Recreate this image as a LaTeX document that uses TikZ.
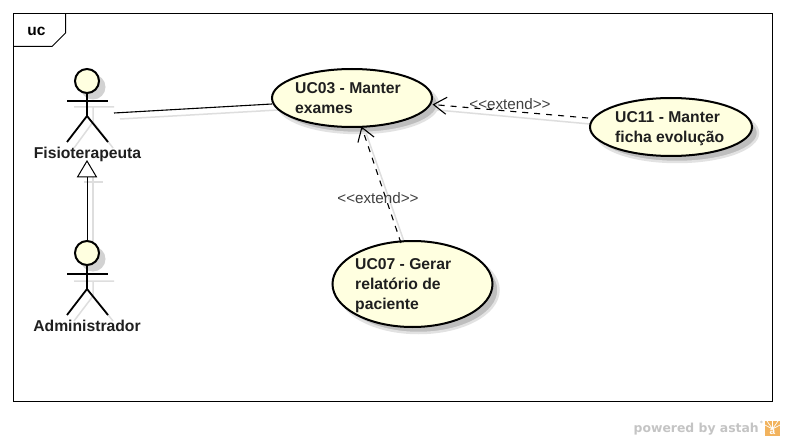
\documentclass[tikz,border=0pt]{standalone}
\usepackage{fontspec}
\setmainfont{Liberation Sans}
\newfontfamily\astahfont{DejaVu Sans}
\usetikzlibrary{shapes.geometric,arrows.meta}
\definecolor{ucfill}{HTML}{FFFFE0}
\definecolor{shadowc}{HTML}{BEBEBE}
\definecolor{ghost}{HTML}{DEDEDE}
\definecolor{labelc}{HTML}{404040}
\definecolor{astahc}{HTML}{C4C4C4}
\definecolor{astaho}{HTML}{F2B35E}
\tikzset{
  x=1pt,y=-1pt,
  usecase/.style={ellipse,draw=black,line width=2pt,fill=ucfill,inner sep=0pt,outer sep=0pt},
  ushadow/.style={ellipse,fill=shadowc,draw=shadowc!45,line width=2.5pt,inner sep=0pt},
  uctext/.style={font=\bfseries\fontsize{15.7}{20}\selectfont,align=left,anchor=north west,inner sep=0pt,text=black!88},
  actorname/.style={font=\bfseries\fontsize{15.7}{17}\selectfont,inner sep=0pt,text=black!88},
  stereo/.style={font=\fontsize{15.2}{17}\selectfont,text=labelc,inner sep=0pt},
  head/.style={circle,draw=black,line width=2pt,fill=ucfill,minimum size=24pt,inner sep=0pt,outer sep=0pt},
  limb/.style={draw=black,line width=1.8pt},
  ghostline/.style={draw=ghost,line width=1.5pt},
  assoc/.style={draw=black,line width=1.1pt},
  ext/.style={draw=black,line width=1.1pt,dash pattern=on 6pt off 6pt,-{Straight Barb[length=13pt,width=17pt,line width=1.1pt]}},
}
\begin{document}
\begin{tikzpicture}
\useasboundingbox (0,0) rectangle (785,441);
\fill[white] (0,0) rectangle (785,441);
% frame
\draw[black,line width=1pt] (13.5,13.5) rectangle (772.5,401.5);
\draw[black,line width=1pt] (65.5,13.5) -- (65.5,33) -- (52,46.5) -- (13.5,46.5);
\node[font=\bfseries\fontsize{15.5}{17}\selectfont,inner sep=0pt] (frametag) at (36.5,31) {uc};
% shadows
\node[ushadow,minimum width=160pt,minimum height=58pt] (s03) at (358,104) {};
\node[ushadow,minimum width=162pt,minimum height=58pt] (s11) at (677,133) {};
\node[ushadow,minimum width=160pt,minimum height=86pt] (s07) at (418.5,290) {};
% actor shadows
\fill[shadowc!70] (93,87) circle (12.5);
\fill[shadowc!70] (93,259) circle (12.5);
\draw[ghostline] (74,107) -- (114,107) (93,107) -- (93,122) -- (74,148) (93,122) -- (113,148);
\draw[ghostline] (74,281) -- (114,281) (93,281) -- (93,296) -- (74,321) (93,296) -- (113,321);
% connector shadows
\draw[ghostline] (120,119) -- (278,110);
\draw[ghostline] (93,177) -- (93,243) (84,182) -- (103,182);
\draw[ghostline] (437,110) -- (590,124);
\draw[ghostline] (366,133) -- (407,250);
% use cases
\node[usecase,minimum width=160pt,minimum height=58pt] (uc03) at (352,98) {};
\node[usecase,minimum width=162pt,minimum height=58pt] (uc11) at (671,127) {};
\node[usecase,minimum width=160pt,minimum height=86pt] (uc07) at (412.5,284) {};
\node[uctext] (t03) at (295,82.5) {UC03 - Manter\\exames};
\node[uctext] (t11) at (615,111.5) {UC11 - Manter\\ficha evolução};
\node[uctext] (t07) at (355,258.5) {UC07 - Gerar\\relatório de\\paciente};
% actors
\node[head] (h1) at (87,81) {};
\coordinate (n1) at (87,116);
\draw[limb] (h1.south) -- (n1);
\draw[limb] (67,101) -- (108,101);
\draw[limb] (67,142) -- (n1) -- (108,142);
\node[actorname] (a1) at (87.5,154) {Fisioterapeuta};
\node[head] (h2) at (87,253) {};
\coordinate (n2) at (87,289);
\draw[limb] (h2.south) -- (n2);
\draw[limb] (67,274) -- (108,274);
\draw[limb] (67,315) -- (n2) -- (108,315);
\node[actorname] (a2) at (87,326) {Administrador};
% generalisation
\coordinate (gtip) at (87,161);
\draw[black,line width=1pt,fill=white] (gtip) -- (96.5,177) -- (77.5,177) -- cycle;
\coordinate (gbase) at (87,177);
\draw[black,line width=1pt] (gbase) -- (h2.north);
% association
\coordinate (a1r) at (114,113);
\coordinate (u3w) at (272,104);
\draw[assoc] (a1r) -- (u3w);
% extend
\coordinate (e11) at (588,118);
\coordinate (e03r) at (432.5,104.5);
\draw[ext] (e11) -- (e03r);
\coordinate (e07) at (401,243);
\coordinate (e03b) at (361.5,126.5);
\draw[ext] (e07) -- (e03b);
\node[stereo] (l1) at (510,104) {<{}<extend>{}>};
\node[stereo] (l2) at (378,198) {<{}<extend>{}>};
% watermark
\node[font=\astahfont\bfseries\fontsize{12.4}{16}\selectfont,text=astahc,inner sep=0pt,anchor=base east] (pw) at (759,432.5) {powered by astah};
\node[font=\astahfont\bfseries\fontsize{6}{7}\selectfont,text=astahc,inner sep=0pt] (star) at (761.5,423) {*};
\fill[astaho] (765,421) rectangle (780,436);
\draw[white,line width=.7pt] (772.5,421) -- (772.5,429) (765,425) -- (772.5,429) (780,425) -- (772.5,429) (767,421) -- (772.5,429) (778,421) -- (772.5,429);
\node[font=\bfseries\fontsize{10}{10}\selectfont,text=white,inner sep=0pt] (alogo) at (772.5,431.5) {a};
\end{tikzpicture}
\end{document}
